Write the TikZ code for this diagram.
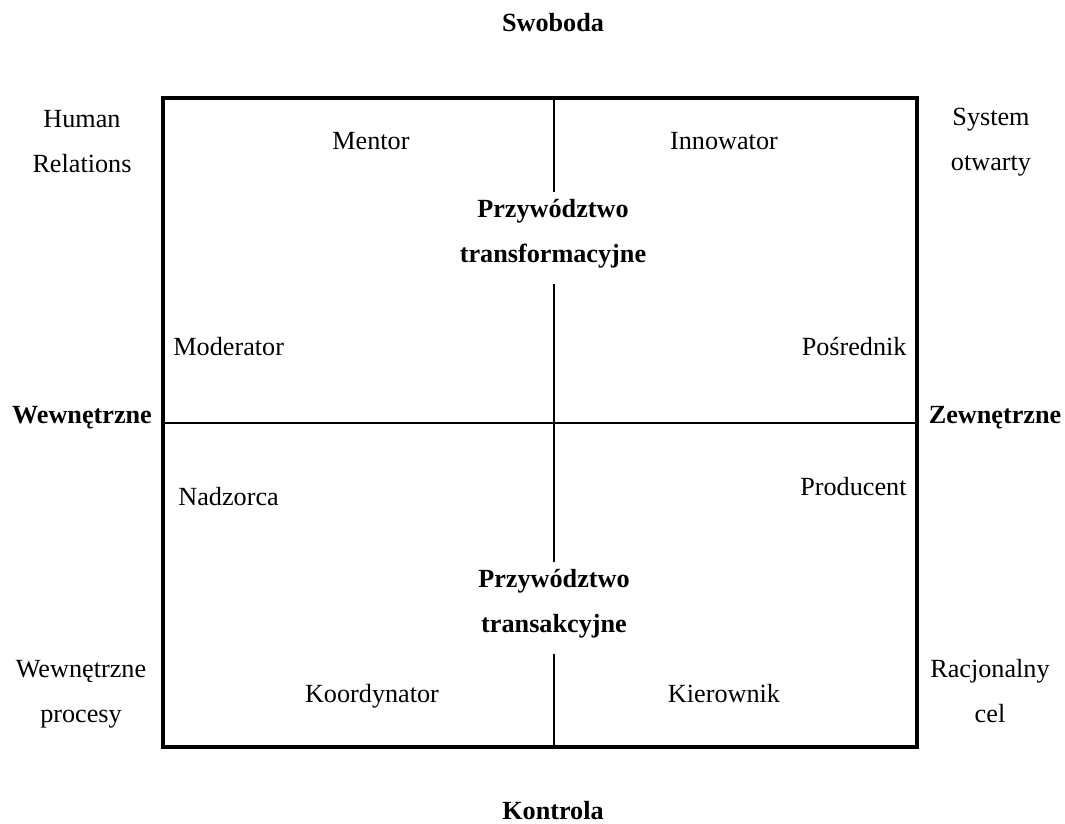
\documentclass[tikz,border=0pt]{standalone}
\usepackage{fontspec}
\setmainfont{Liberation Serif}
\usetikzlibrary{positioning}

\begin{document}
\begin{tikzpicture}[
  x=0.458pt, y=-0.458pt,
  lbl/.style={inner sep=0pt, anchor=base, align=center, font=\fontsize{12}{20.6}\selectfont},
  blbl/.style={lbl, font=\fontsize{12}{20.6}\selectfont\bfseries},
  frame/.style={line width=1.7pt},
  divider/.style={line width=1.2pt},
]
  \useasboundingbox (0,0) rectangle (1065,823);

  % box corners and divider ends
  \coordinate (nw) at (163,98);
  \coordinate (se) at (917,747);
  \coordinate (midW) at (163,423);
  \coordinate (midE) at (917,423);
  \coordinate (midN) at (554,98);
  \coordinate (midS) at (554,747);
  \coordinate (gap1a) at (554,192);
  \coordinate (gap1b) at (554,284);
  \coordinate (gap2a) at (554,562);
  \coordinate (gap2b) at (554,654);

  % axes
  \node[blbl] (swoboda) at (553,32) {Swoboda};
  \node[blbl] (kontrola) at (553,819) {Kontrola};
  \node[blbl] (wewn) at (82,423) {Wewnętrzne};
  \node[blbl] (zewn) at (995,423) {Zewnętrzne};

  % models in the corners (base = last line)
  \node[lbl] (human) at (82,172) {Human\\Relations};
  \node[lbl] (system) at (991,170) {System\\otwarty};
  \node[lbl] (procesy) at (81,722) {Wewnętrzne\\procesy};
  \node[lbl] (cel) at (990,722) {Racjonalny\\cel};

  % roles
  \node[lbl] (mentor) at (371,149) {Mentor};
  \node[lbl] (innowator) at (724,149) {Innowator};
  \node[lbl, anchor=base west] (moderator) at (173,355) {Moderator};
  \node[lbl, anchor=base east] (posrednik) at (907,355) {Pośrednik};
  \node[lbl, anchor=base west] (nadzorca) at (178,505) {Nadzorca};
  \node[lbl, anchor=base east] (producent) at (907,495) {Producent};
  \node[lbl] (koordynator) at (372,702) {Koordynator};
  \node[lbl] (kierownik) at (724,702) {Kierownik};

  % leadership types
  \node[blbl] (transf) at (553,262) {Przywództwo\\transformacyjne};
  \node[blbl] (transak) at (554,632) {Przywództwo\\transakcyjne};

  \draw[frame] (nw) rectangle (se);
  \draw[divider] (midW) -- (midE);
  \draw[divider] (midN) -- (gap1a);
  \draw[divider] (gap1b) -- (gap2a);
  \draw[divider] (gap2b) -- (midS);
\end{tikzpicture}
\end{document}
